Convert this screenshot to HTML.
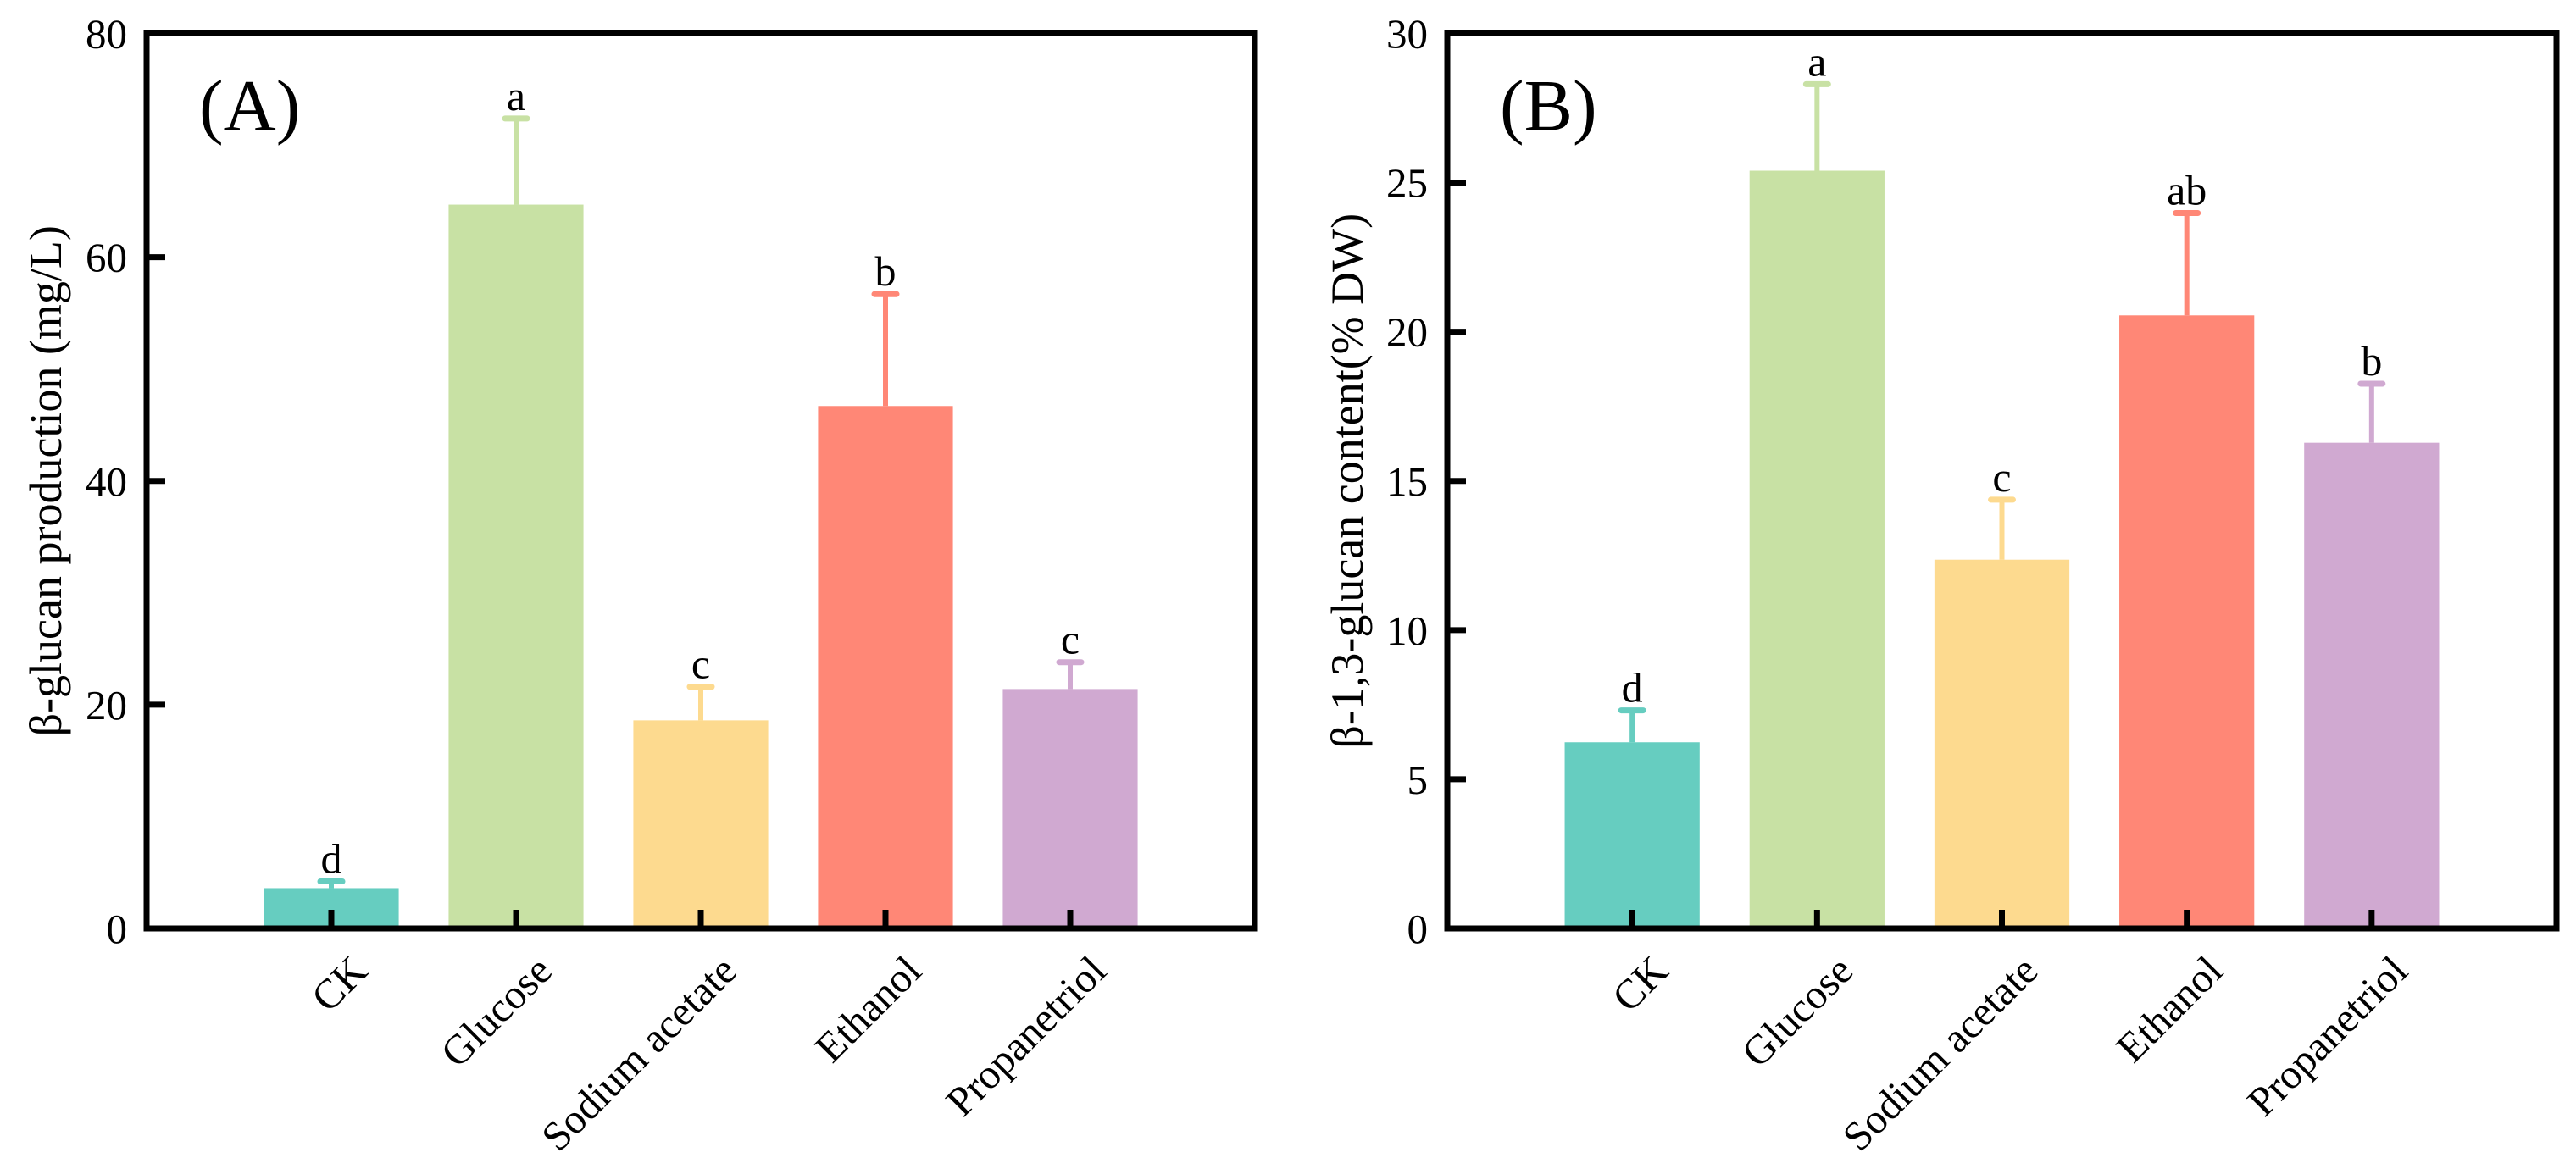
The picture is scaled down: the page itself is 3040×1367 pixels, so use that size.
<!DOCTYPE html>
<html><head><meta charset="utf-8">
<style>
html,body{margin:0;padding:0;background:#fff;}
svg{display:block;font-family:"Liberation Serif","Times New Roman",serif;}
</style></head>
<body>
<svg id="chart" width="3040" height="1367" viewBox="0 0 3040 1367" xmlns="http://www.w3.org/2000/svg"></svg>
<script>
const categories = ["CK","Glucose","Sodium acetate","Ethanol","Propanetriol"];
const colors = ["#66CDC0","#C8E1A4","#FDDA8F","#FF8776","#D0A9D1"];
const valuesA = [3.6, 64.7, 18.6, 46.7, 21.4];
const errorsA = [0.6, 7.7, 3.0, 10.0, 2.4];
const lettersA = ["d","a","c","b","c"];
const ticksA = [0,20,40,60,80];
const valuesB = [6.24, 25.4, 12.36, 20.55, 16.28];
const errorsB = [1.07, 2.9, 2.01, 3.43, 1.98];
const lettersB = ["d","a","c","ab","b"];
const ticksB = [0,5,10,15,20,25,30];

const NS = "http://www.w3.org/2000/svg";
const svg = document.getElementById("chart");
function mk(tag, attrs, parent){
  const e = document.createElementNS(NS, tag);
  for (const k in attrs) e.setAttribute(k, attrs[k]);
  (parent||svg).appendChild(e);
  return e;
}

function panel(opts){
  const {left,right,top,bottom,ymax,values,errors,letters,ticks,title,label,key,titleX} = opts;
  const g = mk("g", {});
  
  
  const band = (right-left)/(categories.length+1);
  const xs = i => left + (i+1)*band;
  const ys = v => bottom - (v/ymax)*(bottom-top);
  const bw = band*0.73;
  values.forEach((v,i)=>{
    const c = colors[i];
    const yt = ys(v), ye = ys(v+errors[i]);
    const eb = mk("line", {x1:xs(i), x2:xs(i), y1:yt, y2:ye, stroke:c, "stroke-width":6}, g);
    
    
    const cap = mk("line", {x1:xs(i)-13, x2:xs(i)+13, y1:ye, y2:ye, stroke:c, "stroke-width":7, "stroke-linecap":"round"}, g);
    
    
    const r = mk("rect", {x:xs(i)-bw/2, y:yt, width:bw, height:bottom-yt, fill:c}, g);
    
    
    const t = mk("text", {x:xs(i), y:ye-10, "text-anchor":"middle", "font-size":50}, g);
    t.textContent = letters[i];
    
    
    const tk = mk("line", {x1:xs(i), x2:xs(i), y1:bottom, y2:bottom-22, stroke:"#000", "stroke-width":7}, g);
    
    
    const lx = xs(i)+20, ly = bottom+28;
    const xl = mk("text", {x:lx, y:ly, "text-anchor":"end", "font-size":49, transform:`rotate(-45 ${lx} ${ly})`, "dominant-baseline":"hanging"}, g);
    xl.textContent = categories[i];
    
    
  });
  ticks.forEach(v=>{
    const y = ys(v);
    if (v>0 && v<ymax){
      const tk = mk("line", {x1:left, x2:left+22, y1:y, y2:y, stroke:"#000", "stroke-width":7}, g);
      
      
    }
    const t = mk("text", {x:left-23, y:y+17, "text-anchor":"end", "font-size":49}, g);
    t.textContent = v;
    
    
  });
  const frame = mk("rect", {x:left, y:top, width:right-left, height:bottom-top, fill:"none", stroke:"#000", "stroke-width":7}, g);
  
  
  const cy = (top+bottom)/2;
  const yt = mk("text", {x:titleX, y:cy, "text-anchor":"middle", "font-size":54, transform:`rotate(-90 ${titleX} ${cy})`}, g);
  yt.textContent = title;
  
  
  const pl = mk("text", {x:left+62, y:top+114, "font-size":86}, g);
  pl.textContent = label;
  
  
}

panel({left:173,right:1481,top:39.5,bottom:1096,ymax:80,values:valuesA,errors:errorsA,letters:lettersA,ticks:ticksA,title:"β-glucan production (mg/L)",label:"(A)",key:"panel-a",titleX:72});
panel({left:1708,right:3017,top:39.5,bottom:1096,ymax:30,values:valuesB,errors:errorsB,letters:lettersB,ticks:ticksB,title:"β-1,3-glucan content(% DW)",label:"(B)",key:"panel-b",titleX:1608});
</script>
</body></html>
